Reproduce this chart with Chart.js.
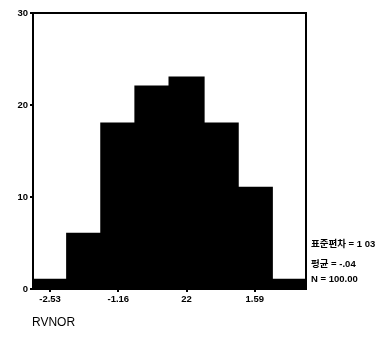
<!DOCTYPE html>
<html>
<head>
<meta charset="utf-8">
<script src="https://cdn.jsdelivr.net/npm/chart.js@4/dist/chart.umd.min.js"></script>
<style>
  html, body { margin:0; padding:0; background:#fff; }
  #wrap { position:relative; width:387px; height:343px; }
  canvas { position:absolute; left:0; top:0; }
  .txt { position:absolute; font-family:"Liberation Sans", Arial, "Noto Sans CJK KR", sans-serif; color:#000; white-space:nowrap; }
  .stat { font-size:9.5px; font-weight:bold; left:311px; }
  .ko { font-family:"Noto Sans CJK KR", sans-serif; }
</style>
</head>
<body>
<div id="wrap">
  <canvas id="hist" width="387" height="343"></canvas>
  <div class="txt stat" style="top:236px"><span class="ko">표준편차</span> = 1 03</div>
  <div class="txt stat" style="top:256px"><span class="ko">평균</span> = -.04</div>
  <div class="txt stat" style="top:273px">N = 100.00</div>
  <div class="txt" style="left:32px;top:315px;font-size:12px">RVNOR</div>
</div>
<script>
const bins = ['b1','b2','b3','b4','b5','b6','b7','b8'];
const counts = [1, 6, 18, 22, 23, 18, 11, 1];
const xTickLabels = ['-2.53', '', '-1.16', '', '22', '', '1.59', ''];
const yTicks = [0, 10, 20, 30];

const frame = {
  id: 'frame',
  afterDatasetsDraw(chart) {
    const a = chart.chartArea, c = chart.ctx;
    c.save();
    c.strokeStyle = '#000';
    c.lineWidth = 2;
    c.strokeRect(a.left, a.top, a.right - a.left, a.bottom - a.top);
    c.restore();
  }
};

new Chart(document.getElementById('hist').getContext('2d'), {
  type: 'bar',
  data: {
    labels: bins,
    datasets: [{ data: counts, backgroundColor: '#000', borderWidth: 0, inflateAmount: 1, barPercentage: 1, categoryPercentage: 1 }]
  },
  options: {
    responsive: false,
    animation: false,
    layout: { padding: { top: 13, right: 81, bottom: 34, left: 0 } },
    plugins: { legend: { display: false }, tooltip: { enabled: false } },
    scales: {
      x: {
        grid: {
          display: true, drawOnChartArea: false, tickLength: 3, lineWidth: 2, offset: false,
          color: ctx => xTickLabels[ctx.index] ? '#000' : 'rgba(0,0,0,0)'
        },
        border: { display: false },
        ticks: {
          autoSkip: false, maxRotation: 0, padding: 2, color: '#000',
          font: { family: '"Liberation Sans", Arial, sans-serif', size: 9.5, weight: 'bold' },
          callback: (v, i) => xTickLabels[i]
        },
        afterFit: s => { s.height = 20; }
      },
      y: {
        min: 0, max: 30,
        afterBuildTicks: s => { s.ticks = yTicks.map(v => ({ value: v })); },
        grid: { display: true, drawOnChartArea: false, tickLength: 3, color: '#000', lineWidth: 2 },
        border: { display: false },
        ticks: {
          padding: 2, color: '#000',
          font: { family: '"Liberation Sans", Arial, sans-serif', size: 9.5, weight: 'bold' }
        },
        afterFit: s => { s.width = 33; }
      }
    }
  },
  plugins: [frame]
});
</script>
</body>
</html>
